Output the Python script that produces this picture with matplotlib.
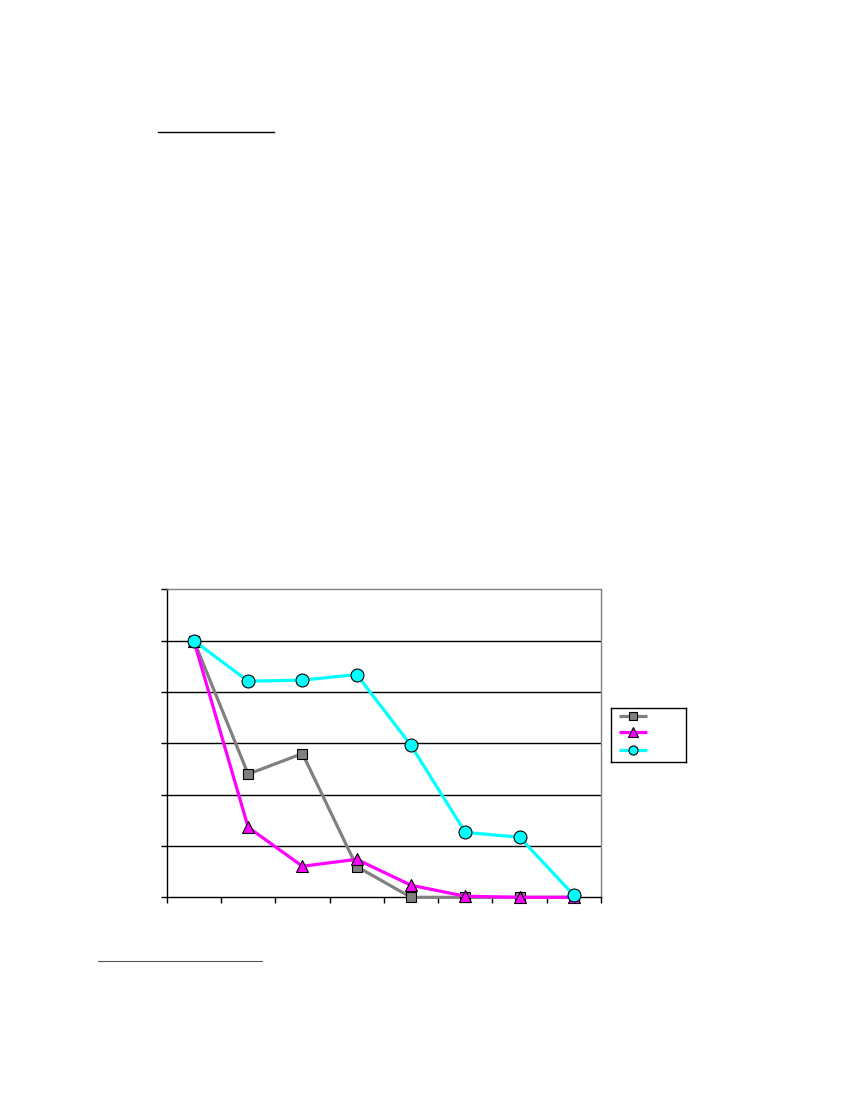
import matplotlib
matplotlib.use("Agg")
import matplotlib.pyplot as plt
from matplotlib.lines import Line2D
import numpy as np

# Data (no labels are shown in the reference)
categories = [1, 2, 3, 4, 5, 6, 7, 8]
series_gray = [100, 48, 56, 12, 0, 0, 0, 0]
series_magenta = [100, 27.3, 12.1, 14.8, 4.7, 0.4, 0, 0]
series_cyan = [100, 84.2, 84.6, 86.8, 59.2, 25.3, 23.4, 0.8]
y_ticks = [0, 20, 40, 60, 80, 100, 120]

W, H = 850, 1100
fig = plt.figure(figsize=(W / 100, H / 100), dpi=100)
fig.patch.set_facecolor("white")

def fx(px):
    return px / W

def fy(py):
    return 1 - py / H

left, right, top, bottom = 166.7, 601.0, 589.3, 897.3
ax = fig.add_axes([fx(left), fy(bottom), fx(right) - fx(left), (bottom - top) / H])

x = np.arange(len(categories))
lw = 2.3
ax.plot(x, series_gray, color="#808080", lw=lw, marker="s", markersize=7.8,
        markerfacecolor="#808080", markeredgecolor="black", markeredgewidth=0.8,
        zorder=3, clip_on=False)
ax.plot(x, series_magenta, color="#FF00FF", lw=lw, marker="^", markersize=9,
        markerfacecolor="#FF00FF", markeredgecolor="black", markeredgewidth=0.8,
        zorder=4, clip_on=False)
ax.plot(x, series_cyan, color="#00FFFF", lw=lw, marker="o", markersize=9.3,
        markerfacecolor="#00FFFF", markeredgecolor="black", markeredgewidth=0.8,
        zorder=5, clip_on=False)

ax.set_xlim(-0.5, len(categories) - 0.5)
ax.set_ylim(y_ticks[0], y_ticks[-1])
ax.set_xticks(np.arange(-0.5, len(categories), 1.0))
ax.set_yticks(y_ticks)
ax.set_xticklabels([])
ax.set_yticklabels([])
ax.tick_params(axis="both", direction="out", length=4, width=1, color="black")
for yv in y_ticks[1:-1]:
    ax.axhline(yv, color="black", lw=1.0, zorder=1)

ax.spines["left"].set_color("black")
ax.spines["bottom"].set_color("black")
ax.spines["left"].set_linewidth(1.0)
ax.spines["bottom"].set_linewidth(1.0)
ax.spines["top"].set_color("#808080")
ax.spines["right"].set_color("#808080")
ax.spines["top"].set_linewidth(1.0)
ax.spines["right"].set_linewidth(1.0)
for s in ax.spines.values():
    s.set_zorder(2)

# Legend box (no text labels in reference)
lg_l, lg_t, lg_r, lg_b = 611.3, 708.3, 685.7, 762.3
lax = fig.add_axes([fx(lg_l), fy(lg_b), fx(lg_r) - fx(lg_l), (lg_b - lg_t) / H])
lax.set_xlim(0, lg_r - lg_l)
lax.set_ylim(lg_b - lg_t, 0)
lax.set_xticks([])
lax.set_yticks([])
for s in lax.spines.values():
    s.set_color("black")
    s.set_linewidth(1.0)
legend_styles = [
    ("#808080", "s", 6),
    ("#FF00FF", "^", 6.5),
    ("#00FFFF", "o", 6.5),
]
row_y = [7.4, 24.0, 41.7]
x0, x1 = 619.3 - lg_l, 646.7 - lg_l
for (c, m, ms), ry in zip(legend_styles, row_y):
    lax.plot([x0, x1], [ry, ry], color=c, lw=lw, solid_capstyle="butt")
    lax.plot([(x0 + x1) / 2], [ry], color=c, marker=m, markersize=ms,
             markerfacecolor=c, markeredgecolor="black", markeredgewidth=0.8, linestyle="none")

# Decorative rules on the page
fig.add_artist(Line2D([fx(158.3), fx(273.7)], [fy(132.3), fy(132.3)], color="black", lw=1.0))
fig.add_artist(Line2D([fx(98.3), fx(261.7)], [fy(961.3), fy(961.3)], color="#555555", lw=0.8))

fig.savefig("out.png", dpi=100, facecolor="white")
